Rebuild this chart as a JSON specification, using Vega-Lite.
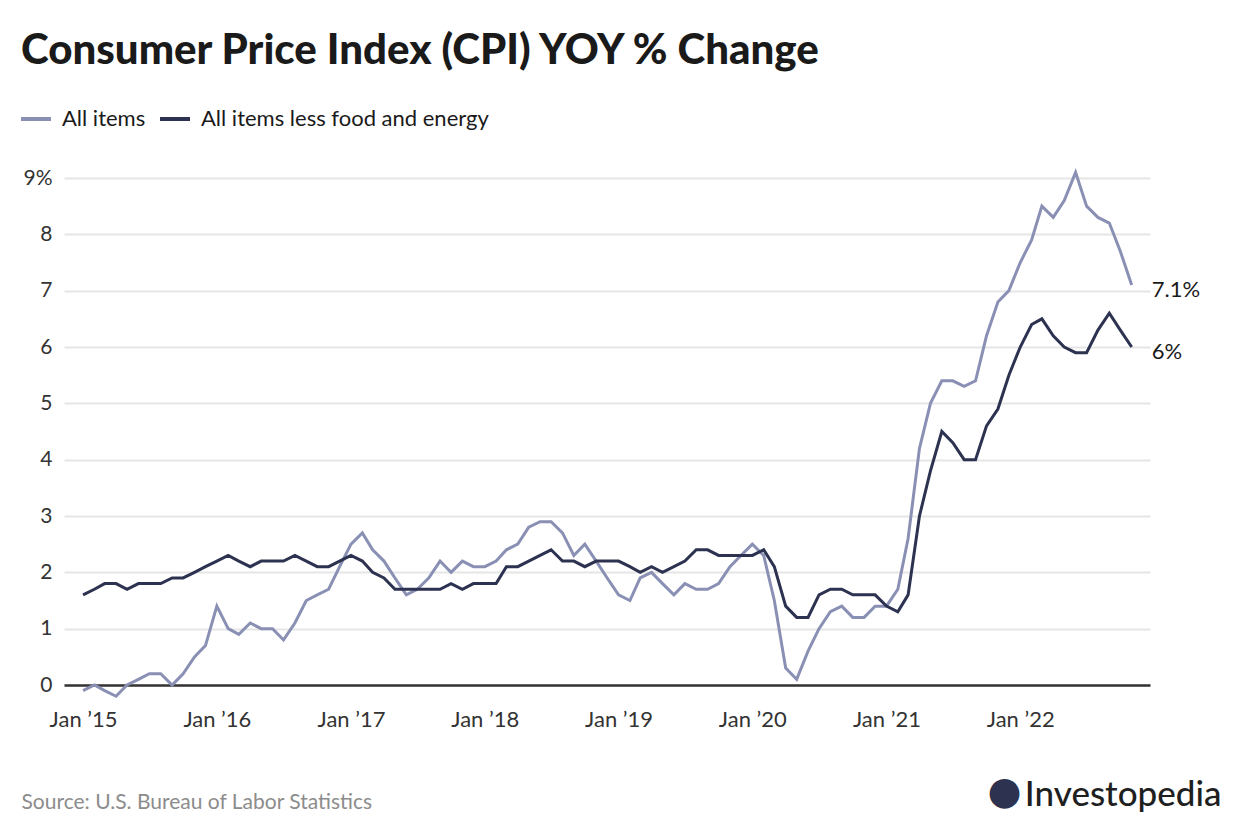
{
  "$schema": "https://vega.github.io/schema/vega-lite/v6.json",
  "autosize": "none",
  "width": 1086,
  "height": 507,
  "padding": {"left": 64, "top": 178, "right": 90, "bottom": 155},
  "background": "#ffffff",
  "config": {
    "font": "Lato",
    "view": {"stroke": null}
  },
  "title": {
    "text": "Consumer Price Index (CPI) YOY % Change",
    "anchor": "start",
    "frame": "group",
    "fontSize": 42,
    "fontWeight": 900,
    "color": "#1a1a1a",
    "baseline": "alphabetic",
    "offset": 40,
    "dx": -43,
    "dy": 44
  },
  "data": {
    "values": [
      {"date": "2015-01-01", "a": -0.1, "c": 1.6}, {"date": "2015-02-01", "a": 0.0, "c": 1.7}, {"date": "2015-03-01", "a": -0.1, "c": 1.8}, {"date": "2015-04-01", "a": -0.2, "c": 1.8}, {"date": "2015-05-01", "a": 0.0, "c": 1.7}, {"date": "2015-06-01", "a": 0.1, "c": 1.8}, {"date": "2015-07-01", "a": 0.2, "c": 1.8}, {"date": "2015-08-01", "a": 0.2, "c": 1.8}, {"date": "2015-09-01", "a": 0.0, "c": 1.9}, {"date": "2015-10-01", "a": 0.2, "c": 1.9}, {"date": "2015-11-01", "a": 0.5, "c": 2.0}, {"date": "2015-12-01", "a": 0.7, "c": 2.1},
      {"date": "2016-01-01", "a": 1.4, "c": 2.2}, {"date": "2016-02-01", "a": 1.0, "c": 2.3}, {"date": "2016-03-01", "a": 0.9, "c": 2.2}, {"date": "2016-04-01", "a": 1.1, "c": 2.1}, {"date": "2016-05-01", "a": 1.0, "c": 2.2}, {"date": "2016-06-01", "a": 1.0, "c": 2.2}, {"date": "2016-07-01", "a": 0.8, "c": 2.2}, {"date": "2016-08-01", "a": 1.1, "c": 2.3}, {"date": "2016-09-01", "a": 1.5, "c": 2.2}, {"date": "2016-10-01", "a": 1.6, "c": 2.1}, {"date": "2016-11-01", "a": 1.7, "c": 2.1}, {"date": "2016-12-01", "a": 2.1, "c": 2.2},
      {"date": "2017-01-01", "a": 2.5, "c": 2.3}, {"date": "2017-02-01", "a": 2.7, "c": 2.2}, {"date": "2017-03-01", "a": 2.4, "c": 2.0}, {"date": "2017-04-01", "a": 2.2, "c": 1.9}, {"date": "2017-05-01", "a": 1.9, "c": 1.7}, {"date": "2017-06-01", "a": 1.6, "c": 1.7}, {"date": "2017-07-01", "a": 1.7, "c": 1.7}, {"date": "2017-08-01", "a": 1.9, "c": 1.7}, {"date": "2017-09-01", "a": 2.2, "c": 1.7}, {"date": "2017-10-01", "a": 2.0, "c": 1.8}, {"date": "2017-11-01", "a": 2.2, "c": 1.7}, {"date": "2017-12-01", "a": 2.1, "c": 1.8},
      {"date": "2018-01-01", "a": 2.1, "c": 1.8}, {"date": "2018-02-01", "a": 2.2, "c": 1.8}, {"date": "2018-03-01", "a": 2.4, "c": 2.1}, {"date": "2018-04-01", "a": 2.5, "c": 2.1}, {"date": "2018-05-01", "a": 2.8, "c": 2.2}, {"date": "2018-06-01", "a": 2.9, "c": 2.3}, {"date": "2018-07-01", "a": 2.9, "c": 2.4}, {"date": "2018-08-01", "a": 2.7, "c": 2.2}, {"date": "2018-09-01", "a": 2.3, "c": 2.2}, {"date": "2018-10-01", "a": 2.5, "c": 2.1}, {"date": "2018-11-01", "a": 2.2, "c": 2.2}, {"date": "2018-12-01", "a": 1.9, "c": 2.2},
      {"date": "2019-01-01", "a": 1.6, "c": 2.2}, {"date": "2019-02-01", "a": 1.5, "c": 2.1}, {"date": "2019-03-01", "a": 1.9, "c": 2.0}, {"date": "2019-04-01", "a": 2.0, "c": 2.1}, {"date": "2019-05-01", "a": 1.8, "c": 2.0}, {"date": "2019-06-01", "a": 1.6, "c": 2.1}, {"date": "2019-07-01", "a": 1.8, "c": 2.2}, {"date": "2019-08-01", "a": 1.7, "c": 2.4}, {"date": "2019-09-01", "a": 1.7, "c": 2.4}, {"date": "2019-10-01", "a": 1.8, "c": 2.3}, {"date": "2019-11-01", "a": 2.1, "c": 2.3}, {"date": "2019-12-01", "a": 2.3, "c": 2.3},
      {"date": "2020-01-01", "a": 2.5, "c": 2.3}, {"date": "2020-02-01", "a": 2.3, "c": 2.4}, {"date": "2020-03-01", "a": 1.5, "c": 2.1}, {"date": "2020-04-01", "a": 0.3, "c": 1.4}, {"date": "2020-05-01", "a": 0.1, "c": 1.2}, {"date": "2020-06-01", "a": 0.6, "c": 1.2}, {"date": "2020-07-01", "a": 1.0, "c": 1.6}, {"date": "2020-08-01", "a": 1.3, "c": 1.7}, {"date": "2020-09-01", "a": 1.4, "c": 1.7}, {"date": "2020-10-01", "a": 1.2, "c": 1.6}, {"date": "2020-11-01", "a": 1.2, "c": 1.6}, {"date": "2020-12-01", "a": 1.4, "c": 1.6},
      {"date": "2021-01-01", "a": 1.4, "c": 1.4}, {"date": "2021-02-01", "a": 1.7, "c": 1.3}, {"date": "2021-03-01", "a": 2.6, "c": 1.6}, {"date": "2021-04-01", "a": 4.2, "c": 3.0}, {"date": "2021-05-01", "a": 5.0, "c": 3.8}, {"date": "2021-06-01", "a": 5.4, "c": 4.5}, {"date": "2021-07-01", "a": 5.4, "c": 4.3}, {"date": "2021-08-01", "a": 5.3, "c": 4.0}, {"date": "2021-09-01", "a": 5.4, "c": 4.0}, {"date": "2021-10-01", "a": 6.2, "c": 4.6}, {"date": "2021-11-01", "a": 6.8, "c": 4.9}, {"date": "2021-12-01", "a": 7.0, "c": 5.5},
      {"date": "2022-01-01", "a": 7.5, "c": 6.0}, {"date": "2022-02-01", "a": 7.9, "c": 6.4}, {"date": "2022-03-01", "a": 8.5, "c": 6.5}, {"date": "2022-04-01", "a": 8.3, "c": 6.2}, {"date": "2022-05-01", "a": 8.6, "c": 6.0}, {"date": "2022-06-01", "a": 9.1, "c": 5.9}, {"date": "2022-07-01", "a": 8.5, "c": 5.9}, {"date": "2022-08-01", "a": 8.3, "c": 6.3}, {"date": "2022-09-01", "a": 8.2, "c": 6.6}, {"date": "2022-10-01", "a": 7.7, "c": 6.3}, {"date": "2022-11-01", "a": 7.1, "c": 6.0}
    ]
  },
  "transform": [
    {"fold": ["a", "c"], "as": ["key", "value"]},
    {"lookup": "key", "from": {"data": {"values": [{"key": "a", "series": "All items"}, {"key": "c", "series": "All items less food and energy"}]}, "key": "key", "fields": ["series"]}}
  ],
  "encoding": {
    "x": {
      "field": "date",
      "type": "temporal",
      "scale": {"type": "utc", "domain": [{"year": 2014, "month": 11, "date": 10, "utc": true}, {"year": 2022, "month": 12, "date": 21, "utc": true}]},
      "axis": {
        "title": "Source: U.S. Bureau of Labor Statistics",
        "titleX": -43,
        "titleY": 117,
        "titleAlign": "left",
        "titleAnchor": "start",
        "titleBaseline": "middle",
        "titleFontSize": 21,
        "titleFontWeight": "normal",
        "titleColor": "#8c8c8c",
        "format": "%b \u2019%y",
        "tickCount": {"interval": "year", "step": 1},
        "grid": false,
        "ticks": false,
        "domain": true,
        "domainColor": "#333333",
        "domainWidth": 2.5,
        "labelFontSize": 22,
        "labelColor": "#333333",
        "labelPadding": 24,
        "labelFlush": false
      }
    }
  },
  "layer": [
    {
      "mark": {"type": "line", "strokeWidth": 3, "strokeJoin": "miter"},
      "encoding": {
        "y": {
          "field": "value",
          "type": "quantitative",
          "scale": {"domain": [0, 9], "nice": false, "zero": false},
          "axis": {
            "title": "Investopedia",
            "titleAngle": 0,
            "titleX": 1157,
            "titleY": 616,
            "titleAlign": "right",
            "titleBaseline": "middle",
            "titleFontSize": 35,
            "titleFontWeight": 500,
            "titleColor": "#1f1f1f",
            "values": [0, 1, 2, 3, 4, 5, 6, 7, 8, 9],
            "labelExpr": "datum.value == 9 ? '9%' : datum.label",
            "grid": true,
            "gridColor": "#e6e6e6",
            "gridWidth": 2,
            "ticks": false,
            "domain": false,
            "labelFontSize": 21,
            "labelColor": "#333333",
            "labelPadding": 12
          }
        },
        "color": {
          "field": "series",
          "type": "nominal",
          "scale": {"domain": ["All items", "All items less food and energy"], "range": ["#8a90b4", "#2c3250"]},
          "legend": {
            "title": null,
            "orient": "none",
            "legendX": -45,
            "legendY": -76,
            "direction": "horizontal",
            "symbolType": "stroke",
            "symbolStrokeWidth": 4,
            "symbolSize": 900,
            "labelFontSize": 22,
            "labelColor": "#1a1a1a",
            "labelOffset": 9,
            "columnPadding": 6,
            "labelLimit": 400
          }
        }
      }
    },
    {
      "transform": [
        {"filter": "utcyear(datum.date) == 2022 && utcmonth(datum.date) == 10"},
        {"calculate": "datum.value + '%'", "as": "lbl"}
      ],
      "mark": {"type": "text", "align": "left", "baseline": "middle", "dx": 20, "dy": 5, "fontSize": 22, "color": "#1a1a1a"},
      "encoding": {
        "y": {
          "field": "value",
          "type": "quantitative",
          "scale": {"domain": [0, 9], "nice": false, "zero": false},
          "axis": {
            "orient": "right",
            "title": "\u25cf",
            "titleAngle": 0,
            "titleX": -146,
            "titleY": 613,
            "titleAlign": "center",
            "titleBaseline": "middle",
            "titleFontSize": 39,
            "titleFont": "DejaVu Sans",
            "titleFontWeight": "normal",
            "titleColor": "#2c3250",
            "labels": false,
            "ticks": false,
            "domain": false,
            "grid": false
          }
        },
        "text": {"field": "lbl"}
      }
    }
  ],
  "resolve": {"scale": {"y": "independent"}}
}
